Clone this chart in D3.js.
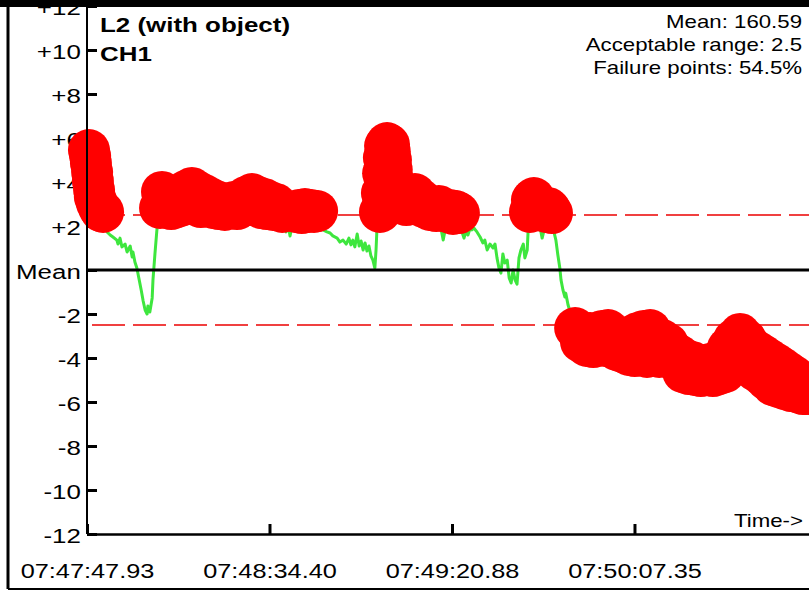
<!DOCTYPE html>
<html><head><meta charset="utf-8">
<script src="https://cdn.jsdelivr.net/npm/d3@7"></script>
<style>body{margin:0;background:#fff;}svg{display:block;}</style>
</head><body><svg id="c" width="809" height="592"></svg>
<script>
// ---- data ----
const titleText = "L2 (with object)";
const channelText = "CH1";
const statLines = ["Mean: 160.59", "Acceptable range: 2.5", "Failure points: 54.5%"];
const acceptableRange = 2.5;
const xTickTimes = [0, 46.47, 92.94, 139.41];           // seconds from start
const xTickLabels = ["07:47:47.93", "07:48:34.40", "07:49:20.88", "07:50:07.35"];
const yTickValues = [-12, -10, -8, -6, -4, -2, 0, 2, 4, 6, 8, 10, 12];
const yTickLabels = ["-12", "-10", "-8", "-6", "-4", "-2", "Mean", "+2", "+4", "+6", "+8", "+10", "+12"];
const xAxisLabel = "Time->";

const times = [
 0.5,0.8,1.0,1.3,1.5,1.8,2.0,2.5,3.1,3.6,4.1,4.6,5.1,5.9,6.6,7.6,7.9,8.4,8.9,9.7,10.2,11.0,11.5,11.7,12.2,12.7,13.2,13.8,14.3,14.8,15.3,15.5,16.0,16.6,16.8,17.3,17.8,
 18.6,19.1,19.9,20.6,21.4,22.2,22.9,23.7,24.4,25.2,26.0,26.7,27.5,28.3,29.0,29.8,30.6,31.3,32.1,32.8,33.6,34.4,35.1,35.9,36.7,37.4,38.2,39.0,39.7,40.5,41.3,42.0,42.8,43.5,44.3,45.1,45.8,46.6,47.4,48.1,48.9,49.7,50.2,50.7,51.2,51.7,52.2,52.7,53.2,54.0,54.7,55.5,56.3,57.0,57.8,58.6,
 59.3,60.1,61.1,61.9,62.6,63.7,64.4,65.2,66.0,66.7,67.2,67.7,68.2,68.8,69.3,69.8,70.3,70.8,71.3,71.8,72.3,72.8,73.3,73.6,73.8,74.1,
 74.6,75.1,75.4,75.6,75.9,76.4,76.9,77.1,77.4,77.6,77.9,78.4,78.9,79.6,80.5,81.3,82.0,82.8,83.5,84.3,85.0,85.8,86.6,87.3,88.1,88.9,89.6,90.1,90.7,91.2,91.7,92.4,93.2,93.9,94.7,95.5,96.0,96.5,97.0,97.5,98.0,
 98.5,99.3,100.1,100.8,101.3,101.9,102.6,103.4,103.9,104.4,104.9,105.4,105.9,106.4,107.0,107.5,108.0,108.5,109.0,109.5,110.0,110.5,111.1,111.5,112.1,112.3,
 112.8,113.3,113.8,114.3,114.8,115.4,115.9,116.4,116.9,117.4,117.9,118.4,118.9,119.4,119.9,120.4,120.7,121.2,121.7,121.9,122.5,122.9,123.4,
 124.3,125.1,125.8,126.6,127.3,128.1,128.9,129.6,130.4,131.2,131.9,132.7,133.4,134.2,135.0,135.7,136.5,137.3,138.0,138.8,139.5,140.3,141.1,141.8,142.6,143.4,144.1,144.9,145.7,146.4,147.2,147.9,148.7,149.5,150.2,151.0,151.8,152.5,153.3,154.1,154.8,155.6,156.3,157.1,157.9,158.6,159.4,160.2,160.9,161.7,162.4,163.2,164.0,164.7,165.5,166.3,167.0,167.8,168.6,169.3,170.1,170.9,171.6,172.4,173.2,173.9,174.7,175.5,176.2,177.0,177.7,178.5,179.3,180.0,180.8,181.6,182.3,183.1,183.9,184.6
];
const values = [
 5.45,5.18,4.86,4.45,4.05,3.64,3.32,3.05,2.82,2.68,2.64,2.18,1.73,1.59,1.5,1.36,1.18,1.45,1.05,1.18,0.82,1.09,0.59,0.82,0.36,0.09,-0.36,-0.91,-1.41,-1.82,-2.0,-1.64,-1.91,-1.27,-0.45,0.73,1.82,
 2.82,3.55,2.95,3.36,2.77,3.18,2.86,3.41,2.95,3.59,3.09,3.73,3.27,3.55,2.86,3.41,3.0,3.27,2.82,3.14,2.77,3.05,2.73,3.0,2.82,3.09,2.77,3.14,2.91,3.32,3.05,3.45,2.95,3.32,2.82,3.23,2.77,3.09,2.73,3.0,2.73,2.64,2.0,1.73,2.09,1.55,2.0,2.27,2.64,2.73,2.59,2.77,2.64,2.73,2.64,2.68,
 2.18,1.82,1.73,1.68,1.55,1.45,1.27,1.36,1.18,1.45,1.14,1.36,1.05,1.64,1.09,1.32,0.91,1.23,0.86,1.09,0.64,0.45,0.09,0.91,1.73,2.36,
 2.64,3.5,4.4,5.1,5.64,5.77,5.7,5.4,5.0,4.55,4.1,3.7,3.36,3.05,3.27,2.95,3.36,3.0,3.45,3.1,3.2,2.86,2.95,2.73,2.82,2.68,2.91,1.91,1.36,1.82,2.64,2.73,2.55,2.68,2.59,1.73,1.45,1.77,1.59,1.86,1.82,
 1.91,1.73,1.5,1.23,1.36,0.91,1.18,1.0,1.18,0.55,0.09,-0.14,0.73,0.32,0.45,-0.36,-0.59,0.0,-0.45,-0.64,0.55,0.91,1.18,0.55,0.91,1.68,
 2.64,3.18,3.27,2.95,2.73,1.91,1.45,1.82,2.64,2.82,2.73,2.59,1.73,1.36,0.68,0.09,-0.45,-0.91,-1.23,-1.05,-1.59,-1.82,-2.18,
 -2.64,-2.82,-3.27,-2.91,-3.45,-2.86,-3.5,-3.0,-3.36,-2.77,-3.45,-2.73,-3.27,-3.0,-3.64,-3.14,-3.73,-3.41,-3.86,-3.0,-3.91,-2.86,-3.64,-2.77,-3.95,-2.73,-3.73,-3.05,-3.95,-3.18,-3.91,-3.36,-4.0,-3.73,-4.18,-3.91,-4.64,-4.09,-4.73,-4.18,-4.77,-4.32,-4.82,-4.36,-4.77,-4.27,-4.82,-4.23,-4.73,-4.0,-4.64,-3.55,-4.36,-3.18,-4.0,-2.91,-3.64,-3.18,-4.27,-3.55,-4.55,-3.73,-4.73,-3.91,-5.0,-4.09,-5.23,-4.27,-5.32,-4.45,-5.41,-4.64,-5.5,-4.82,-5.55,-5.09,-5.64,-5.23,-5.64,-5.45
];

// ---- drawing ----
const W = 809, H = 592;
const FONT = "'Liberation Sans', Arial, Helvetica, sans-serif";
const SX = 1.235; // horizontal text stretch seen in the reference
const svg = d3.select("#c");
const data = times.map((t, i) => ({t, v: values[i]}));

const x = d3.scaleLinear().domain([0, 183.85]).range([87, 809]);
const y = d3.scaleLinear().domain([-12, 12]).range([534, 6]);

// frame
svg.append("line").attr("x1", 8).attr("x2", 8).attr("y1", 0).attr("y2", 589).attr("stroke", "#000").attr("stroke-width", 3);
svg.append("line").attr("x1", 8).attr("x2", W).attr("y1", 589).attr("y2", 589).attr("stroke", "#000").attr("stroke-width", 2);

// y axis (ticks + labels)
const yAxis = d3.axisLeft(y).tickValues(yTickValues).tickFormat((d, i) => yTickLabels[i])
  .tickSizeInner(-10).tickSizeOuter(0).tickPadding(5);
const gy = svg.append("g").attr("transform", "translate(87,0)").call(yAxis);
gy.select(".domain").remove();
gy.selectAll(".tick line").attr("stroke", "#000").attr("stroke-width", 3);
gy.selectAll(".tick text").attr("font-size", 21).attr("font-family", FONT).attr("fill", "#000")
  .attr("dy", "0.42em").attr("transform", `scale(${SX},1)`);

// x axis
const xAxis = d3.axisBottom(x).tickValues(xTickTimes).tickFormat((d, i) => xTickLabels[i])
  .tickSizeInner(-10).tickSizeOuter(0).tickPadding(29);
const gx = svg.append("g").attr("transform", "translate(0,534)").call(xAxis);
gx.select(".domain").attr("stroke", "#000").attr("stroke-width", 2.5);
gx.selectAll(".tick line").attr("stroke", "#000").attr("stroke-width", 3);
gx.selectAll(".tick text").attr("font-size", 20.5).attr("font-family", FONT).attr("fill", "#000")
  .attr("transform", `scale(${SX},1)`);

// acceptable range dashed lines
[acceptableRange, -acceptableRange].forEach(v => {
  svg.append("line").attr("x1", x(0)).attr("x2", W).attr("y1", y(v)).attr("y2", y(v))
    .attr("stroke", "#f04040").attr("stroke-width", 2)
    .attr("stroke-dasharray", "33,8").attr("stroke-dashoffset", 36);
});

// series line
svg.append("path").datum(data)
  .attr("d", d3.line().x(d => x(d.t)).y(d => y(d.v)))
  .attr("fill", "none").attr("stroke", "#3ee63e").attr("stroke-width", 3)
  .attr("stroke-linejoin", "round");

// mean line
svg.append("line").attr("x1", x(0)).attr("x2", W).attr("y1", y(0)).attr("y2", y(0))
  .attr("stroke", "#000").attr("stroke-width", 3);

// failure points
svg.append("g").selectAll("circle").data(data.filter(d => Math.abs(d.v) > acceptableRange))
  .join("circle").attr("cx", d => x(d.t)).attr("cy", d => y(d.v)).attr("r", 21).attr("fill", "#ff0000");

// y axis line on top
svg.append("line").attr("x1", x(0)).attr("x2", x(0)).attr("y1", y(12)).attr("y2", y(-12))
  .attr("stroke", "#000").attr("stroke-width", 2);

// texts
function stretchedText(tx, ty, str, size, anchor, weight) {
  svg.append("text").attr("transform", `translate(${tx},${ty}) scale(${SX},1)`)
    .attr("text-anchor", anchor).attr("font-family", FONT).attr("font-size", size)
    .attr("font-weight", weight || "normal").attr("fill", "#000").text(str);
}
stretchedText(100, 32, titleText, 21, "start", "bold");
stretchedText(100, 61, channelText, 21, "start", "bold");
statLines.forEach((s, i) => stretchedText(802, 28 + i * 23, s, 18, "end"));
stretchedText(803, 527, xAxisLabel, 18, "end");

// top bar
svg.append("rect").attr("x", 0).attr("y", 0).attr("width", W).attr("height", 7).attr("fill", "#000");
</script></body></html>
